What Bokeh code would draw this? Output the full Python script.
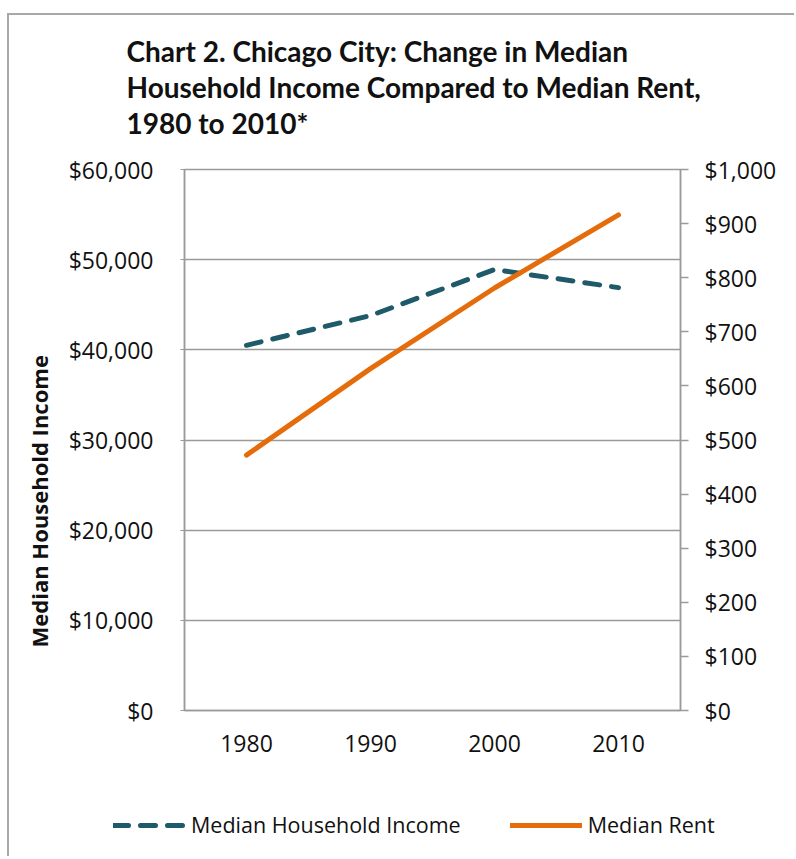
from bokeh.plotting import figure
from bokeh.models import (FactorRange, Range1d, LinearAxis, FixedTicker,
                          NumeralTickFormatter, Title, Legend, LegendItem,
                          ColumnDataSource)
from bokeh.embed import file_html
from bokeh.resources import INLINE

# ---- data ----
years = ["1980", "1990", "2000", "2010"]
income = [40500, 43800, 48900, 46900]
rent = [472, 632, 781, 916]

income_ticks = [0, 10000, 20000, 30000, 40000, 50000, 60000]
rent_ticks = [0, 100, 200, 300, 400, 500, 600, 700, 800, 900, 1000]

title_lines = ["Chart 2. Chicago City: Change in Median",
               "Household Income Compared to Median Rent,",
               "1980 to 2010*"]
y_label = "Median Household  Income"
series_names = ["Median Household Income", "Median Rent"]

# ---- style ----
FONT = "Open Sans"
TFONT = "Lato"
TXT = "#111111"
GRAY = "#9a9a9a"
BORDER = "2px solid #a8a8a8"
TEAL = "#1F5A6A"
ORANGE = "#E46C0A"
INC_STYLE = dict(line_color=TEAL, line_width=5, line_dash="15 12", line_cap="round")
RENT_STYLE = dict(line_color=ORANGE, line_width=5, line_cap="round")

src = ColumnDataSource(dict(year=years, income=income, rent=rent))

p = figure(x_range=FactorRange(*years), y_range=Range1d(0, 60000),
           width=787, height=745, output_backend="svg", toolbar_location=None,
           min_border_left=174, min_border_right=116,
           min_border_top=154, min_border_bottom=50)
p.extra_y_ranges = {"rent": Range1d(0, 1000)}
p.styles = {"margin-left": "7px", "margin-top": "13px",
            "border-top": BORDER, "border-left": BORDER}

p.outline_line_color = GRAY
p.outline_line_width = 1.5
p.background_fill_color = "white"
p.border_fill_color = "white"

p.line("year", "income", source=src, **INC_STYLE)
p.line("year", "rent", source=src, y_range_name="rent", **RENT_STYLE)

# grids
p.xgrid.visible = False
p.ygrid.grid_line_color = GRAY
p.ygrid.grid_line_width = 1.5

# x axis
xa = p.xaxis[0]
xa.axis_line_color = GRAY
xa.axis_line_width = 1.5
xa.major_tick_line_color = None
xa.major_label_text_font = FONT
xa.major_label_text_font_size = "23px"
xa.major_label_text_color = TXT
xa.major_label_standoff = 18

# left axis
ya = p.yaxis[0]
ya.ticker = FixedTicker(ticks=income_ticks)
ya.formatter = NumeralTickFormatter(format="$0,0")
ya.axis_line_color = GRAY
ya.axis_line_width = 1.5
ya.major_tick_line_color = GRAY
ya.major_tick_out = 4
ya.major_tick_in = 0
ya.minor_tick_line_color = None
ya.major_label_text_font = FONT
ya.major_label_text_font_size = "23px"
ya.major_label_text_color = TXT
ya.major_label_standoff = 27

# right axis
ra = LinearAxis(y_range_name="rent", ticker=FixedTicker(ticks=rent_ticks),
                formatter=NumeralTickFormatter(format="$0,0"))
ra.axis_line_color = GRAY
ra.axis_line_width = 1.5
ra.major_tick_line_color = GRAY
ra.major_tick_line_width = 1.5
ra.major_tick_out = 8
ra.major_tick_in = 0
ra.minor_tick_line_color = None
ra.major_label_text_font = FONT
ra.major_label_text_font_size = "23px"
ra.major_label_text_color = TXT
ra.major_label_standoff = 16
p.add_layout(ra, "right")

# vertical axis title (sits toward the bottom as in the original)
ylab = Title(text=y_label, align="left", offset=63, standoff=24,
             text_font=FONT, text_font_size="22px", text_font_style="bold",
             text_color=TXT)
p.add_layout(ylab, "left")

# chart title: spacer, then lines from the nearest to the farthest
p.add_layout(Title(text="\u00a0", text_font_size="1px", standoff=27), "above")
for line in reversed(title_lines):
    t = Title(text=line, align="left", offset=-58, standoff=0,
              text_font=TFONT, text_font_size="28px", text_font_style="bold",
              text_color=TXT)
    p.add_layout(t, "above")

# legend strip under the chart (its lines fall outside its own view)
lg = figure(width=787, height=98, x_range=FactorRange(*years),
            y_range=Range1d(-2, -1), output_backend="svg",
            toolbar_location=None, min_border=0,
            x_axis_location=None, y_axis_location=None)
lg.extra_y_ranges = {"rent": Range1d(-2, -1)}
lg.styles = {"margin-left": "7px", "border-left": BORDER}
lg.grid.visible = False
lg.outline_line_color = None
lg.background_fill_color = "white"
lg.border_fill_color = "white"
leg_inc = lg.line("year", "income", source=src, **INC_STYLE)
leg_rent = lg.line("year", "rent", source=src, y_range_name="rent", **RENT_STYLE)
legend = Legend(items=[LegendItem(label=series_names[0], renderers=[leg_inc]),
                       LegendItem(label=series_names[1], renderers=[leg_rent])],
                orientation="horizontal", location=(104, 17),
                glyph_width=72, glyph_height=20, label_standoff=6, spacing=49,
                padding=0, margin=0, border_line_alpha=0,
                background_fill_alpha=0,
                label_text_font=FONT, label_text_font_size="21.5px",
                label_text_color=TXT)
lg.add_layout(legend, "center")

open("out.html", "w").write(file_html([p, lg], INLINE))
